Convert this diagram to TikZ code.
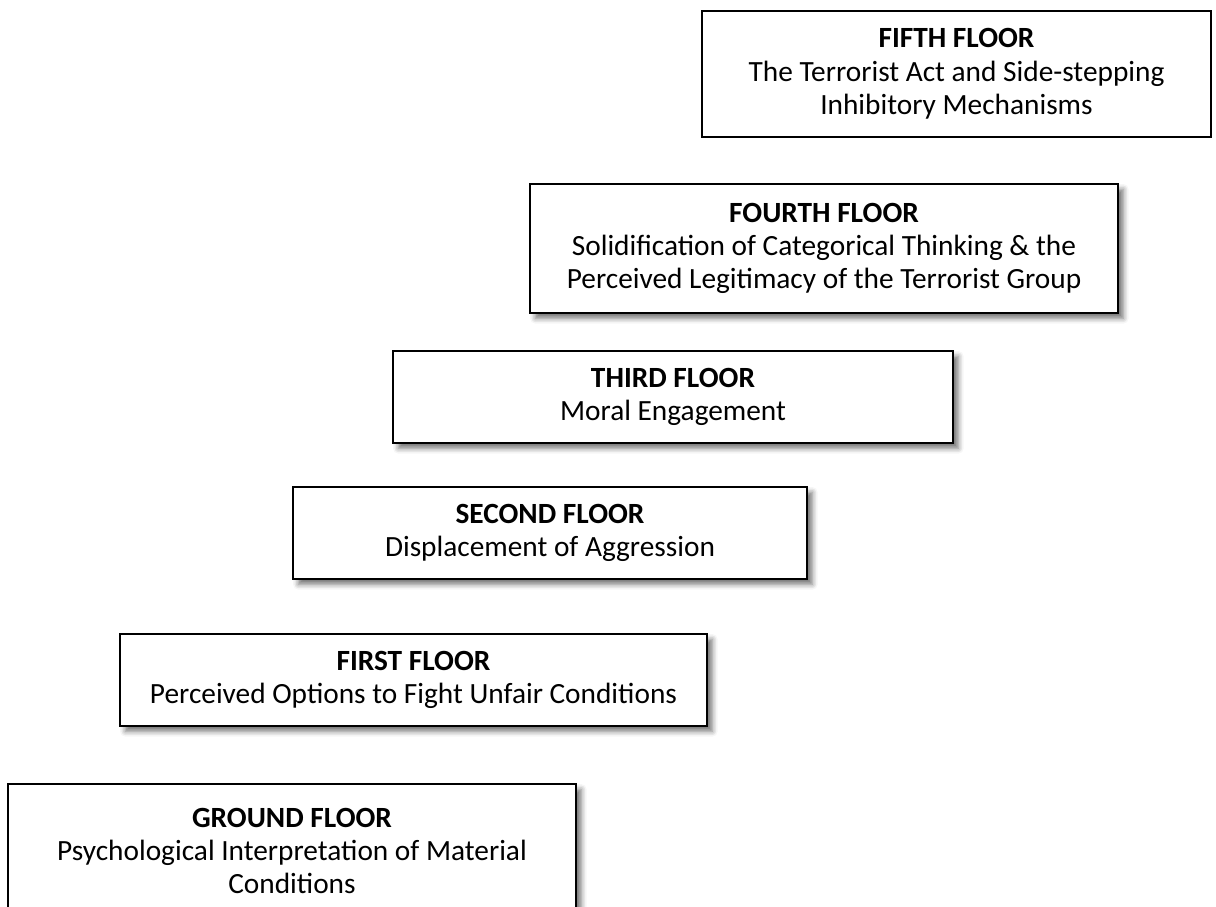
\documentclass[tikz,border=0pt]{standalone}
\usepackage{fontspec}
\setmainfont{Carlito}
\usetikzlibrary{shadows.blur}
\tikzset{
  floorplain/.style={draw=black, line width=1.3pt, fill=white, rectangle, inner sep=0pt,
    align=center, font=\fontsize{22}{25}\selectfont},
  floorbox/.style={floorplain,
    blur shadow={shadow xshift=4pt, shadow yshift=-4pt, shadow blur radius=4pt, shadow opacity=55}},
}
\begin{document}
\begin{tikzpicture}[x=0.75pt,y=-0.75pt]
\useasboundingbox (0,0) rectangle (1216,906);
\clip (0,0) rectangle (1216,906);
\node[floorplain, minimum width=509*0.75pt, minimum height=126*0.75pt] (fifth) at (956.5,74)
  {\textbf{FIFTH FLOOR}\\The Terrorist Act and Side-stepping\\Inhibitory Mechanisms};
\node[floorbox, minimum width=588*0.75pt, minimum height=129*0.75pt] (fourth) at (824,248.5)
  {\textbf{FOURTH FLOOR}\\Solidification of Categorical Thinking \& the\\Perceived Legitimacy of the Terrorist Group};
\node[floorbox, minimum width=560*0.75pt, minimum height=92*0.75pt] (third) at (673,397)
  {\textbf{THIRD FLOOR}\\Moral Engagement};
\node[floorbox, minimum width=514*0.75pt, minimum height=92*0.75pt] (second) at (550,533)
  {\textbf{SECOND FLOOR}\\Displacement of Aggression};
\node[floorbox, minimum width=587*0.75pt, minimum height=92*0.75pt] (first) at (413.5,680)
  {\textbf{FIRST FLOOR}\\Perceived Options to Fight Unfair Conditions};
\node[floorbox, minimum width=568*0.75pt, minimum height=134*0.75pt] (ground) at (292,851)
  {\textbf{GROUND FLOOR}\\Psychological Interpretation of Material\\Conditions};
\end{tikzpicture}
\end{document}
